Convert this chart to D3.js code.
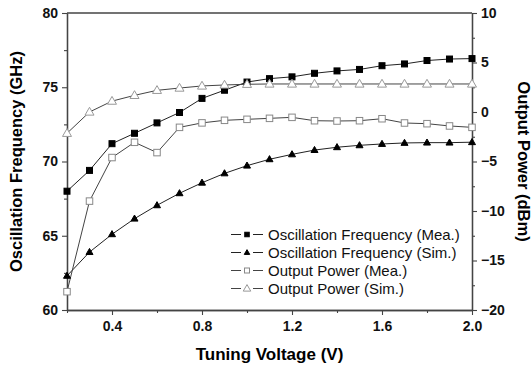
<!DOCTYPE html>
<html><head><meta charset="utf-8">
<script src="https://cdn.jsdelivr.net/npm/d3@7"></script>
<style>body{margin:0;background:#fff}svg{display:block;font-family:"Liberation Sans",Arial,sans-serif}</style>
</head><body><svg id="c" width="532" height="371"></svg>
<script>
const voltage = [0.2,0.3,0.4,0.5,0.6,0.7,0.8,0.9,1.0,1.1,1.2,1.3,1.4,1.5,1.6,1.7,1.8,1.9,2.0];
const freqMea = [68.0,69.4,71.2,71.9,72.6,73.3,74.25,74.8,75.35,75.58,75.7,75.94,76.1,76.2,76.45,76.57,76.8,76.9,76.93];
const freqSim = [62.3,63.9,65.1,66.15,67.05,67.86,68.57,69.2,69.72,70.15,70.48,70.77,70.96,71.09,71.18,71.25,71.27,71.27,71.3];
const powerMea = [-18.15,-9.0,-4.6,-3.06,-4.1,-1.55,-1.1,-0.84,-0.74,-0.64,-0.54,-0.88,-0.91,-0.88,-0.68,-1.11,-1.18,-1.41,-1.55];
const powerSim = [-2.15,0.0,1.1,1.68,2.19,2.42,2.63,2.73,2.8,2.83,2.83,2.83,2.83,2.83,2.83,2.83,2.83,2.83,2.83];
const xTicks = [0.4,0.8,1.2,1.6,2.0];
const yLeftTicks = [60,65,70,75,80];
const yRightTicks = [-20,-15,-10,-5,0,5,10];
const legendLabels = ["Oscillation Frequency (Mea.)","Oscillation Frequency (Sim.)","Output Power (Mea.)","Output Power (Sim.)"];

const svg = d3.select("#c");
const L=67,R=472,T=13,B=310;
const x = d3.scaleLinear().domain([0.2,2.0]).range([L,R]);
const yL = d3.scaleLinear().domain([60,80]).range([B,T]);
const yR = d3.scaleLinear().domain([-20,10]).range([B,T]);
const axCol="#444";

svg.append("line").attr("x1",L).attr("x2",R).attr("y1",T).attr("y2",T).attr("stroke",axCol).attr("stroke-width",1.3);

function styleAxis(g){
  g.select(".domain").attr("stroke",axCol).attr("stroke-width",1.3);
  g.selectAll(".tick line").attr("stroke",axCol).attr("stroke-width",1.1);
  g.selectAll("text").attr("font-weight","bold").attr("font-size",14).attr("fill","#111").attr("font-family","Liberation Sans, Arial, sans-serif");
}
const gx = svg.append("g").attr("transform",`translate(0,${B})`);
gx.call(d3.axisBottom(x).tickValues(d3.range(0.2,2.01,0.2).map(v=>+v.toFixed(1)).filter(v=>!xTicks.includes(v))).tickSize(3).tickFormat("").tickSizeOuter(0));
styleAxis(gx);
const gx2 = svg.append("g").attr("transform",`translate(0,${B})`);
gx2.call(d3.axisBottom(x).tickValues(xTicks).tickSize(5).tickPadding(6).tickFormat(d3.format(".1f")).tickSizeOuter(0));
styleAxis(gx2);

const gyl = svg.append("g").attr("transform",`translate(${L},0)`);
gyl.call(d3.axisLeft(yL).tickValues([62.5,67.5,72.5,77.5]).tickSize(3).tickFormat("").tickSizeOuter(0));
styleAxis(gyl);
const gyl2 = svg.append("g").attr("transform",`translate(${L},0)`);
gyl2.call(d3.axisLeft(yL).tickValues(yLeftTicks).tickSize(5).tickPadding(4).tickSizeOuter(0));
styleAxis(gyl2);

const gyr = svg.append("g").attr("transform",`translate(${R},0)`);
gyr.call(d3.axisRight(yR).tickValues([-17.5,-12.5,-7.5,-2.5,2.5,7.5]).tickSize(3).tickFormat("").tickSizeOuter(0));
styleAxis(gyr);
const gyr2 = svg.append("g").attr("transform",`translate(${R},0)`);
gyr2.call(d3.axisRight(yR).tickValues(yRightTicks).tickSize(5).tickPadding(4).tickSizeOuter(0));
styleAxis(gyr2);

svg.append("text").attr("x",(L+R)/2).attr("y",360).attr("text-anchor","middle").attr("font-weight","bold").attr("font-size",17).text("Tuning Voltage (V)");
svg.append("text").attr("transform",`translate(22,${(T+B)/2}) rotate(-90)`).attr("text-anchor","middle").attr("font-weight","bold").attr("font-size",16.5).text("Oscillation Frequency (GHz)");
svg.append("text").attr("transform",`translate(518,${(T+B)/2}) rotate(90)`).attr("text-anchor","middle").attr("font-weight","bold").attr("font-size",16.5).text("Output Power (dBm)");

const series = [
  {vals:freqMea, y:yL, line:"#222", shape:"square", fill:"#000", stroke:"#000", size:6},
  {vals:freqSim, y:yL, line:"#222", shape:"triangle", fill:"#000", stroke:"#000", size:7},
  {vals:powerMea, y:yR, line:"#444", shape:"square", fill:"#fff", stroke:"#888", size:6.5},
  {vals:powerSim, y:yR, line:"#444", shape:"triangle", fill:"#fff", stroke:"#999", size:9},
];
function marker(g, s, cx, cy, sz){
  if(s.shape==="square"){
    g.append("rect").attr("x",cx-sz/2).attr("y",cy-sz/2).attr("width",sz).attr("height",sz)
      .attr("fill",s.fill).attr("stroke",s.stroke).attr("stroke-width",1);
  } else {
    const h = sz*0.87;
    g.append("path").attr("d",`M${cx},${cy-h*0.6}L${cx+sz/2},${cy+h*0.4}L${cx-sz/2},${cy+h*0.4}Z`)
      .attr("fill",s.fill).attr("stroke",s.stroke).attr("stroke-width",1);
  }
}
series.forEach(s=>{
  const line = d3.line().x((d,i)=>x(voltage[i])).y(d=>s.y(d));
  svg.append("path").datum(s.vals).attr("d",line).attr("fill","none").attr("stroke",s.line).attr("stroke-width",1);
});
series.forEach(s=>{
  const g = svg.append("g");
  s.vals.forEach((v,i)=>marker(g,s,x(voltage[i]),s.y(v),s.size));
});

const lg = svg.append("g");
legendLabels.forEach((lab,i)=>{
  const yy = 234.5 + i*18;
  const s = series[i];
  lg.append("line").attr("x1",231).attr("x2",241).attr("y1",yy).attr("y2",yy).attr("stroke",s.line).attr("stroke-width",1);
  lg.append("line").attr("x1",253).attr("x2",263).attr("y1",yy).attr("y2",yy).attr("stroke",s.line).attr("stroke-width",1);
  marker(lg.append("g"),s,247,yy,s.size-1.5);
  lg.append("text").attr("x",268).attr("y",yy+5).attr("font-size",15).attr("fill","#111").text(lab);
});
</script></body></html>
